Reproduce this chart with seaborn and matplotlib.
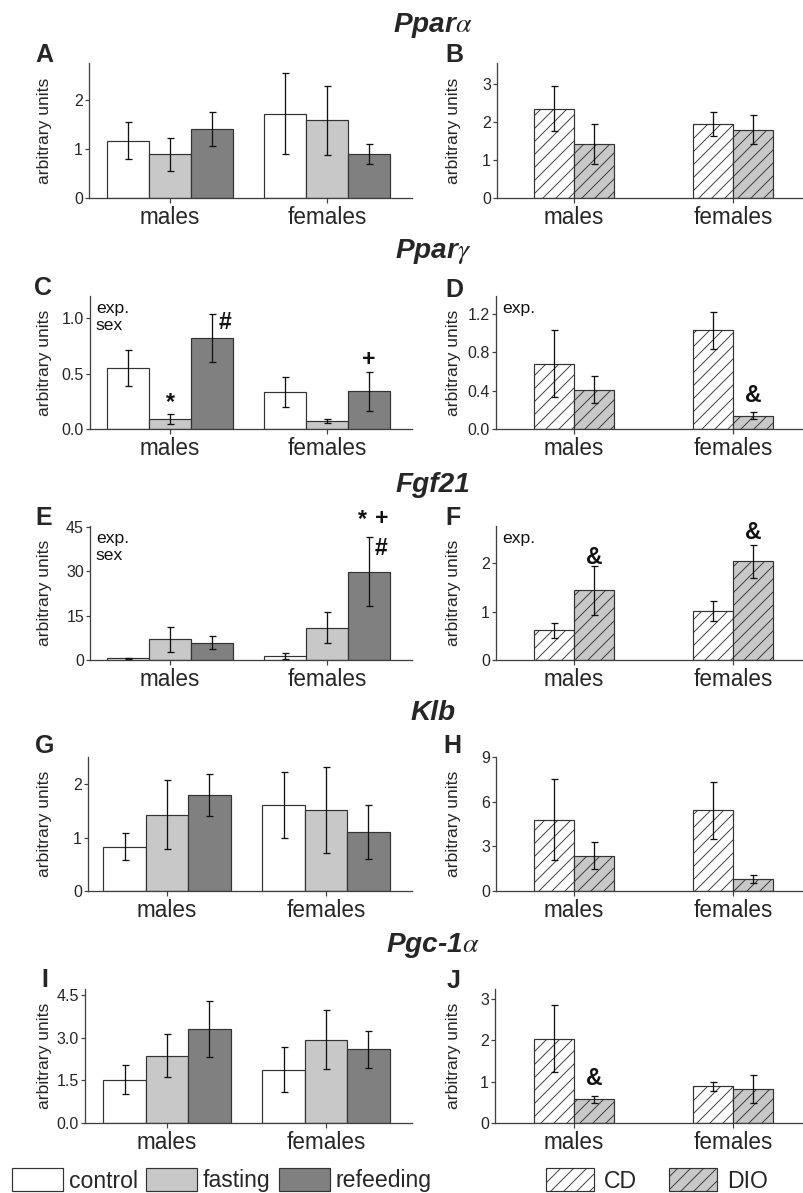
import numpy as np
import pandas as pd
import matplotlib
matplotlib.use("Agg")
import matplotlib.pyplot as plt
import seaborn as sns
from matplotlib.patches import Patch
from matplotlib.container import BarContainer

# ---------------- data ----------------
sexes = ["males", "females"]
fast_groups = ["control", "fasting", "refeeding"]
diet_groups = ["CD", "DIO"]

# Ppar-alpha
A_means = [[1.17, 1.72], [0.89, 1.58], [1.40, 0.90]]
A_errs = [[0.37, 0.83], [0.34, 0.71], [0.35, 0.20]]
B_means = [[2.35, 1.95], [1.42, 1.80]]
B_errs = [[0.60, 0.31], [0.53, 0.39]]
# Ppar-gamma
C_means = [[0.55, 0.33], [0.093, 0.072], [0.82, 0.34]]
C_errs = [[0.16, 0.135], [0.045, 0.022], [0.22, 0.175]]
D_means = [[0.68, 1.03], [0.41, 0.14]]
D_errs = [[0.35, 0.195], [0.14, 0.04]]
# Fgf21
E_means = [[0.55, 1.45], [7.0, 10.9], [5.9, 29.8]]
E_errs = [[0.2, 0.95], [4.15, 5.2], [2.15, 11.7]]
F_means = [[0.62, 1.02], [1.44, 2.04]]
F_errs = [[0.155, 0.205], [0.505, 0.34]]
# Klb
G_means = [[0.83, 1.61], [1.43, 1.52], [1.80, 1.11]]
G_errs = [[0.25, 0.61], [0.65, 0.81], [0.40, 0.505]]
H_means = [[4.79, 5.41], [2.38, 0.80]]
H_errs = [[2.7, 1.89], [0.88, 0.28]]
# Pgc-1alpha
I_means = [[1.52, 1.88], [2.37, 2.93], [3.30, 2.60]]
I_errs = [[0.51, 0.78], [0.75, 1.04], [0.99, 0.65]]
J_means = [[2.03, 0.88], [0.57, 0.82]]
J_errs = [[0.81, 0.105], [0.09, 0.34]]

gene_titles = [r"Ppar$\alpha$", r"Ppar$\gamma$", "Fgf21", "Klb", r"Pgc-1$\alpha$"]
panel_letters = ["A", "B", "C", "D", "E", "F", "G", "H", "I", "J"]

# ---------------- style ----------------
W, H, DPI = 803, 1193, 78
def pt(px):
    return px * 72.0 / DPI

sns.set_style("ticks")
plt.rcParams["font.family"] = ["Liberation Sans", "DejaVu Sans"]
plt.rcParams["mathtext.fontset"] = "stix"
plt.rcParams["hatch.linewidth"] = pt(0.9)

EDGE = "#333333"
SPINE = "#404040"
HATCH = "//"
fast_pal = {"control": "#ffffff", "fasting": "#c8c8c8", "refeeding": "#808080"}
diet_pal = {"CD": "#ffffff", "DIO": "#c8c8c8"}

fig = plt.figure(figsize=(W / DPI, H / DPI), dpi=DPI)

def add_ax(l, r, t, b):
    return fig.add_axes([l / W, 1 - b / H, (r - l) / W, (b - t) / H])

def panel(box, centers, groups, means, errs, pal, hatch, width, ylim, yticks,
          fmt, ylab_x):
    l, r, t, b = box
    ax = add_ax(l, r, t, b)
    rows = []
    for gi, g in enumerate(groups):
        for si, s in enumerate(sexes):
            rows.append((s, g, means[gi][si]))
    df = pd.DataFrame(rows, columns=["sex", "group", "value"])
    sns.barplot(data=df, x="sex", y="value", hue="group", order=sexes,
                hue_order=groups, palette=pal, saturation=1, width=width,
                errorbar=None, edgecolor=EDGE, linewidth=pt(1.2),
                legend=False, ax=ax)
    bars = [c for c in ax.containers if isinstance(c, BarContainer)]
    for gi, cont in enumerate(bars):
        xs = [p.get_x() + p.get_width() / 2 for p in cont.patches]
        hs = [p.get_height() for p in cont.patches]
        ax.errorbar(xs, hs, yerr=errs[gi], fmt="none", ecolor="#111111",
                    elinewidth=pt(1.3), capsize=pt(3.5), capthick=pt(1.3),
                    zorder=5)
        if hatch:
            for p in cont.patches:
                p.set_hatch(hatch)
    c0, c1 = centers
    unit = c1 - c0
    ax.set_xlim(-(c0 - l) / unit, 1 + (r - c1) / unit)
    ax.set_ylim(*ylim)
    ax.set_yticks(yticks)
    ax.set_yticklabels([fmt.format(v) for v in yticks])
    ax.set_xlabel("")
    ax.set_ylabel("arbitrary units", fontsize=pt(17.5))
    ax.yaxis.set_label_coords((ylab_x - l) / (r - l), 0.5)
    for s in ["top", "right"]:
        ax.spines[s].set_visible(False)
    for s in ["left", "bottom"]:
        ax.spines[s].set_color(SPINE)
        ax.spines[s].set_linewidth(pt(1.3))
    ax.tick_params(axis="y", direction="out", length=pt(4), width=pt(1.2),
                   color=SPINE, labelsize=pt(16), pad=pt(2))
    ax.tick_params(axis="x", direction="out", length=pt(5), width=pt(1.2),
                   color=SPINE, labelsize=pt(22.5), pad=pt(3))
    return ax, unit

LEFT_C = (170, 327)
RIGHT_C = (574, 733)

axA, uA = panel((89, 412, 63, 198), LEFT_C, fast_groups, A_means, A_errs, fast_pal,
                None, 0.8, (0, 2.75), [0, 1, 2], "{:.0f}", 52)
axB, uB = panel((497, 803, 63, 198), RIGHT_C, diet_groups, B_means, B_errs, diet_pal,
                HATCH, 0.5, (0, 3.55), [0, 1, 2, 3], "{:.0f}", 461)
axC, uC = panel((90, 412, 296, 429), LEFT_C, fast_groups, C_means, C_errs, fast_pal,
                None, 0.8, (0, 1.2), [0, 0.5, 1.0], "{:.1f}", 52)
axD, uD = panel((496, 803, 296, 429), RIGHT_C, diet_groups, D_means, D_errs, diet_pal,
                HATCH, 0.5, (0, 1.39), [0, 0.4, 0.8, 1.2], "{:.1f}", 461)
axE, uE = panel((90, 412, 526, 660), LEFT_C, fast_groups, E_means, E_errs, fast_pal,
                None, 0.8, (0, 45.2), [0, 15, 30, 45], "{:.0f}", 52)
axF, uF = panel((496, 803, 526, 660), RIGHT_C, diet_groups, F_means, F_errs, diet_pal,
                HATCH, 0.5, (0, 2.77), [0, 1, 2], "{:.0f}", 461)
axG, uG = panel((88, 412, 757, 891), (167, 326), fast_groups, G_means, G_errs, fast_pal,
                None, 0.8, (0, 2.51), [0, 1, 2], "{:.0f}", 52)
axH, uH = panel((496, 803, 757, 891), RIGHT_C, diet_groups, H_means, H_errs, diet_pal,
                HATCH, 0.5, (0, 9.0), [0, 3, 6, 9], "{:.0f}", 461)
axI, uI = panel((85, 412, 989, 1123), (167, 326), fast_groups, I_means, I_errs, fast_pal,
                None, 0.8, (0, 4.71), [0, 1.5, 3.0, 4.5], "{:.1f}", 52)
axJ, uJ = panel((495, 803, 989, 1123), RIGHT_C, diet_groups, J_means, J_errs, diet_pal,
                HATCH, 0.5, (0, 3.23), [0, 1, 2, 3], "{:.0f}", 461)

# ---------------- annotations ----------------
ANN = dict(fontsize=pt(23), fontweight="bold", ha="center", va="baseline",
           color="#111111", clip_on=False, zorder=6)
bw3 = 0.8 / 3
bw2 = 0.25
# C
axC.text(0 + 0, 0.18, "*", **ANN)
axC.text(0 + bw3 + 13 / uC, 0.90, "#", **ANN)
axC.text(1 + bw3, 0.565, "+", **ANN)
# D
axD.text(1 + bw2 / 2, 0.285, "&", **ANN)
# E
axE.text(1 + bw3 - 6 / uE, 45.1, "*", **ANN)
axE.text(1 + bw3 + 13 / uE, 45.6, "+", **ANN)
axE.text(1 + bw3 + 12 / uE, 35.4, "#", **ANN)
# F
axF.text(0 + bw2 / 2, 1.99, "&", **ANN)
axF.text(1 + bw2 / 2, 2.51, "&", **ANN)
# J
axJ.text(0 + bw2 / 2, 0.905, "&", **ANN)

# factor notes
NOTE = dict(fontsize=pt(17.5), ha="left", va="top", color="#111111",
            linespacing=1.15)
for ax, txt in [(axC, "exp.\nsex"), (axE, "exp.\nsex"), (axD, "exp."), (axF, "exp.")]:
    bb = ax.get_position()
    ax.text(6 / (bb.width * W), 1 - 5 / (bb.height * H), txt,
            transform=ax.transAxes, **NOTE)

# ---------------- titles & letters ----------------
for title, base in zip(gene_titles, [32, 258, 492, 720, 952]):
    fig.text(433 / W, 1 - base / H, title, fontsize=pt(28), fontweight="bold",
             style="italic", ha="center", va="baseline")

letter_pos = [(35, 62), (445, 62), (34, 295), (445, 297), (35, 525), (445, 525),
              (35, 753), (443, 753), (41, 987), (447, 988)]
for lab, (x, y) in zip(panel_letters, letter_pos):
    fig.text(x / W, 1 - y / H, lab, fontsize=pt(25), fontweight="bold",
             ha="left", va="baseline")

# ---------------- legends ----------------
fs_leg = 23
h_fast = [Patch(facecolor=fast_pal[g], edgecolor=EDGE, linewidth=pt(1.2), label=g)
          for g in fast_groups]
leg1 = fig.legend(handles=h_fast, loc="lower left", bbox_to_anchor=(12 / W, 0.5 / H),
                  ncol=3, frameon=False, fontsize=pt(fs_leg),
                  handlelength=51 / fs_leg, handleheight=26 / fs_leg,
                  handletextpad=6 / fs_leg, columnspacing=8 / fs_leg,
                  borderpad=0, borderaxespad=0)
h_diet = [Patch(facecolor=diet_pal[g], edgecolor=EDGE, linewidth=pt(1.2), hatch=HATCH,
                label=g) for g in diet_groups]
leg2 = fig.legend(handles=h_diet, loc="lower left", bbox_to_anchor=(546 / W, 0.5 / H),
                  ncol=2, frameon=False, fontsize=pt(fs_leg),
                  handlelength=48 / fs_leg, handleheight=26 / fs_leg,
                  handletextpad=10 / fs_leg, columnspacing=32 / fs_leg,
                  borderpad=0, borderaxespad=0)

fig.savefig("out.png", dpi=DPI)
